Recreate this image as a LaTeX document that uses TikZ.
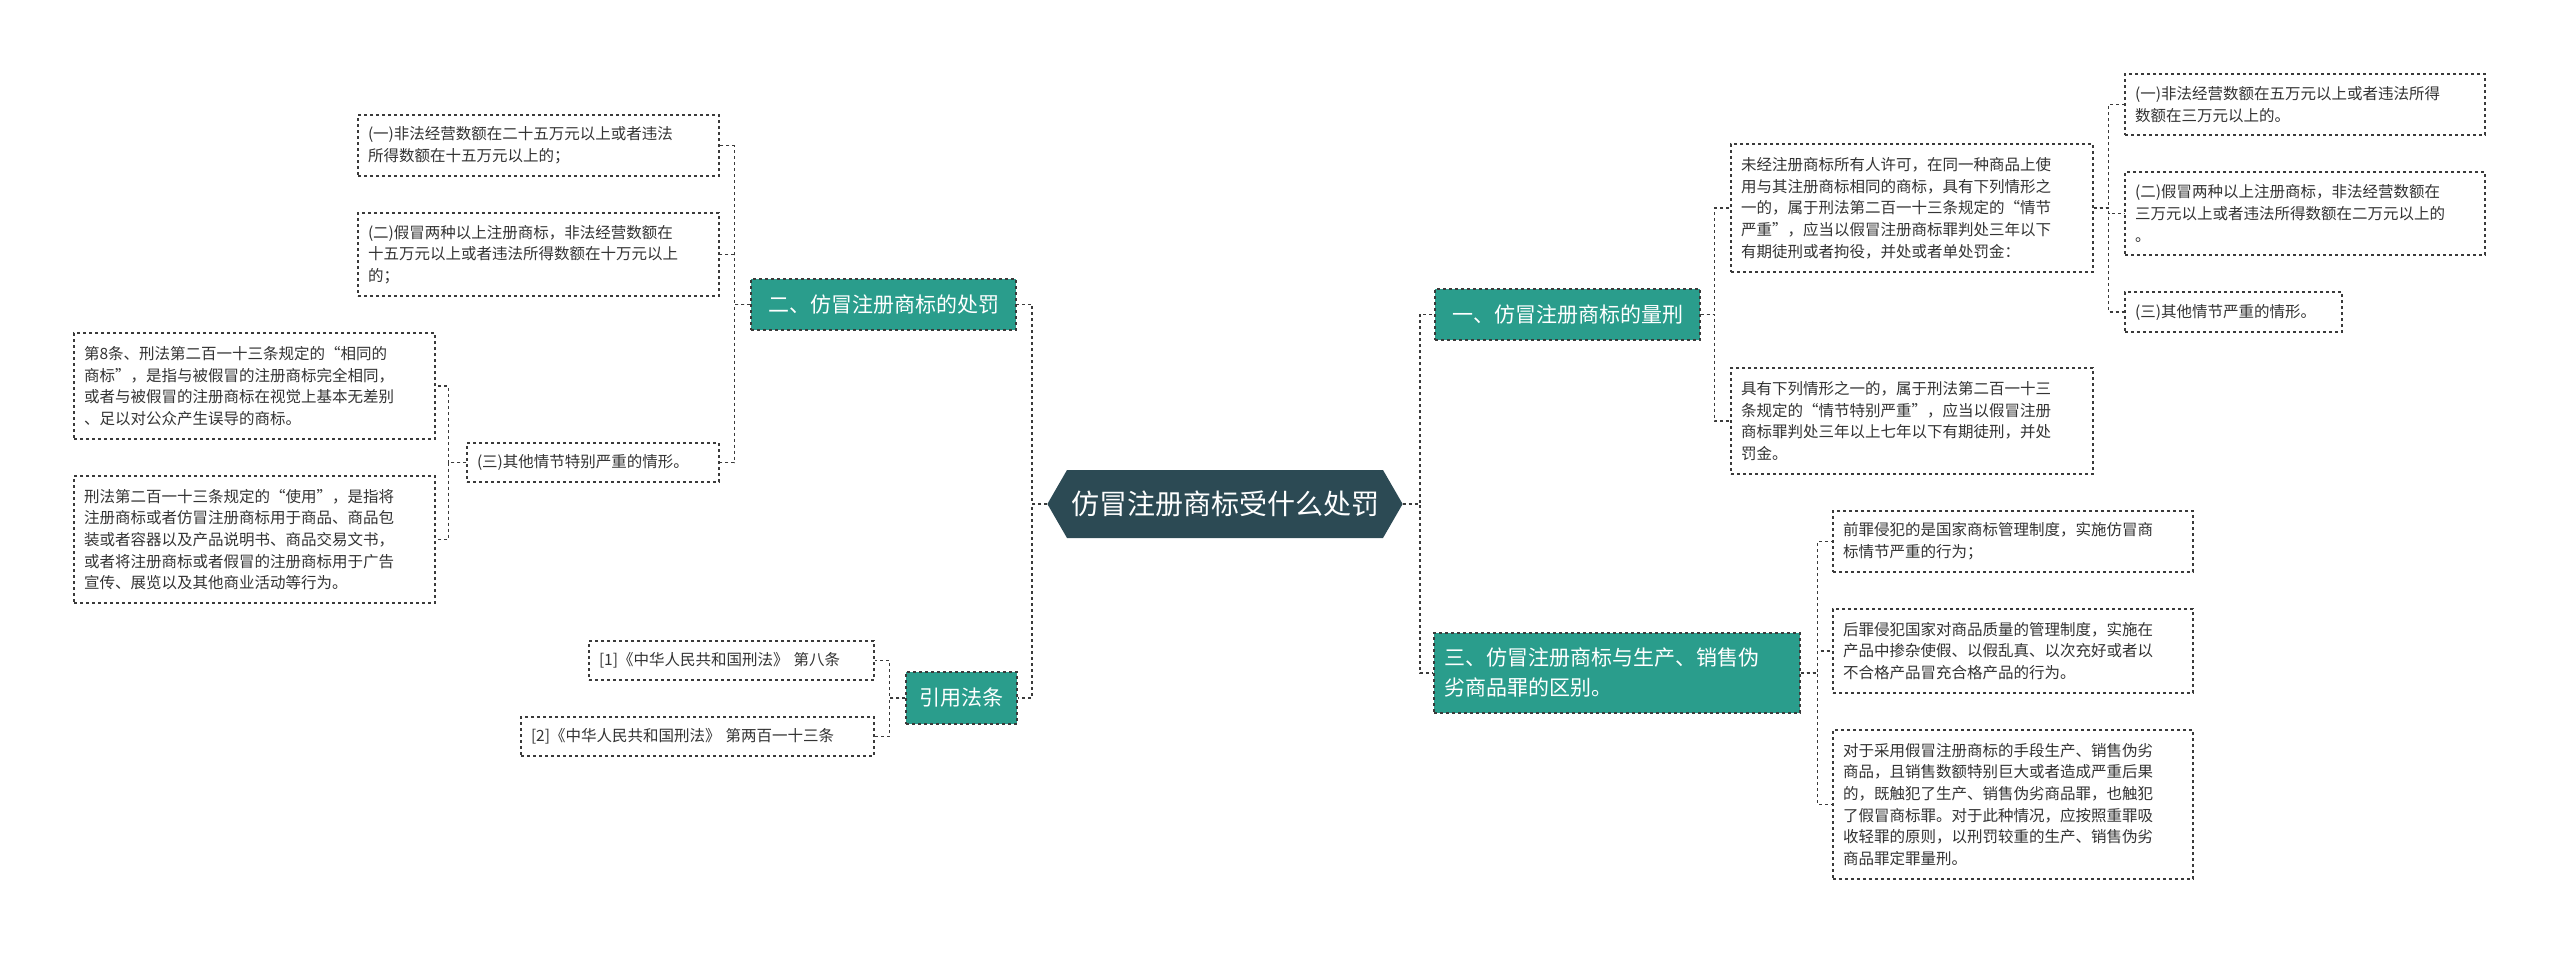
\documentclass[tikz,border=0pt]{standalone}
\usepackage{fontspec}
\setmainfont{Noto Sans CJK SC}
\usetikzlibrary{shapes.symbols}
\definecolor{teal1}{HTML}{2A9D8C}
\definecolor{dark1}{HTML}{2C4A54}
\definecolor{ln}{HTML}{3A3A3A}
\tikzset{
  leaf/.style={draw=ln, dashed, line width=1.3pt, fill=white, align=left, inner xsep=10pt, font=\fontsize{15.5}{21.7}\selectfont, text=black!80, anchor=center},
  branch/.style={draw=ln, dashed, line width=1.3pt, fill=teal1, text=white, align=left, inner xsep=10pt, font=\fontsize{21}{30}\selectfont, anchor=center},
  conn/.style={draw=ln, dashed, line width=1.6pt}
}
\begin{document}
\begin{tikzpicture}[x=1pt,y=-1pt]
\useasboundingbox (0,0) rectangle (2560,953);
\node[signal, signal to=west and east, signal pointer angle=120, fill=dark1, text=white, font=\fontsize{28}{34}\selectfont, minimum width=350, minimum height=68, inner xsep=4pt] (c) at (1225,504) {仿冒注册商标受什么处罚};
% branches
\node[branch, minimum width=265, minimum height=51] (b1) at (1567.5,314.5) {一、仿冒注册商标的量刑};
\node[branch, minimum width=265, minimum height=51] (b2) at (883.5,304.5) {二、仿冒注册商标的处罚};
\node[branch, text width=346, minimum height=80] (b3) at (1617,673) {三、仿冒注册商标与生产、销售伪\\劣商品罪的区别。};
\node[branch, minimum width=111, minimum height=52] (b4) at (961.5,698) {引用法条};
% left
\node[leaf, text width=341, minimum height=61] (l1) at (538.5,145.5) {(一)非法经营数额在二十五万元以上或者违法\\所得数额在十五万元以上的；};
\node[leaf, text width=341, minimum height=83] (l2) at (538.5,254.5) {(二)假冒两种以上注册商标，非法经营数额在\\十五万元以上或者违法所得数额在十万元以上\\的；};
\node[leaf, text width=232, minimum height=39] (l3) at (593,462.5) {(三)其他情节特别严重的情形。};
\node[leaf, text width=341, minimum height=106] (l31) at (254.5,386) {第8条、刑法第二百一十三条规定的“相同的\\商标”，是指与被假冒的注册商标完全相同，\\或者与被假冒的注册商标在视觉上基本无差别\\、足以对公众产生误导的商标。};
\node[leaf, text width=341, minimum height=127] (l32) at (254.5,539.5) {刑法第二百一十三条规定的“使用”，是指将\\注册商标或者仿冒注册商标用于商品、商品包\\装或者容器以及产品说明书、商品交易文书，\\或者将注册商标或者假冒的注册商标用于广告\\宣传、展览以及其他商业活动等行为。};
\node[leaf, text width=265, minimum height=39] (r1) at (731.5,660.5) {[1]《中华人民共和国刑法》 第八条};
\node[leaf, text width=333, minimum height=39] (r2) at (697.5,736.5) {[2]《中华人民共和国刑法》 第两百一十三条};
% right
\node[leaf, text width=342, minimum height=128] (a1) at (1912,208) {未经注册商标所有人许可，在同一种商品上使\\用与其注册商标相同的商标，具有下列情形之\\一的，属于刑法第二百一十三条规定的“情节\\严重”，应当以假冒注册商标罪判处三年以下\\有期徒刑或者拘役，并处或者单处罚金：};
\node[leaf, text width=342, minimum height=106] (a2) at (1912,421) {具有下列情形之一的，属于刑法第二百一十三\\条规定的“情节特别严重”，应当以假冒注册\\商标罪判处三年以上七年以下有期徒刑，并处\\罚金。};
\node[leaf, text width=340, minimum height=61] (a11) at (2305,104.5) {(一)非法经营数额在五万元以上或者违法所得\\数额在三万元以上的。};
\node[leaf, text width=340, minimum height=83] (a12) at (2305,213.5) {(二)假冒两种以上注册商标，非法经营数额在\\三万元以上或者违法所得数额在二万元以上的\\。};
\node[leaf, text width=197, minimum height=40] (a13) at (2233.5,312) {(三)其他情节严重的情形。};
\node[leaf, text width=340, minimum height=61] (d1) at (2013,541.5) {前罪侵犯的是国家商标管理制度，实施仿冒商\\标情节严重的行为；};
\node[leaf, text width=340, minimum height=84] (d2) at (2013,651) {后罪侵犯国家对商品质量的管理制度，实施在\\产品中掺杂使假、以假乱真、以次充好或者以\\不合格产品冒充合格产品的行为。};
\node[leaf, text width=340, minimum height=149] (d3) at (2013,804.5) {对于采用假冒注册商标的手段生产、销售伪劣\\商品，且销售数额特别巨大或者造成严重后果\\的，既触犯了生产、销售伪劣商品罪，也触犯\\了假冒商标罪。对于此种情况，应按照重罪吸\\收轻罪的原则，以刑罚较重的生产、销售伪劣\\商品罪定罪量刑。};
% connectors
\foreach \t in {b1,b3} \draw[conn] (c.east) -- ++(17,0) |- (\t.west);
\foreach \t in {b2,b4} \draw[conn] (c.west) -- ++(-15,0) |- (\t.east);
\foreach \t in {a1,a2} \draw[conn] (b1.east) -- ++(14,0) |- (\t.west);
\foreach \t in {a11,a12,a13} \draw[conn] (a1.east) -- ++(15,0) |- (\t.west);
\foreach \t in {d1,d2,d3} \draw[conn] (b3.east) -- ++(17,0) |- (\t.west);
\foreach \t in {l1,l2,l3} \draw[conn] (b2.west) -- ++(-16,0) |- (\t.east);
\foreach \t in {l31,l32} \draw[conn] (l3.west) -- ++(-18,0) |- (\t.east);
\foreach \t in {r1,r2} \draw[conn] (b4.west) -- ++(-16,0) |- (\t.east);
\end{tikzpicture}
\end{document}
